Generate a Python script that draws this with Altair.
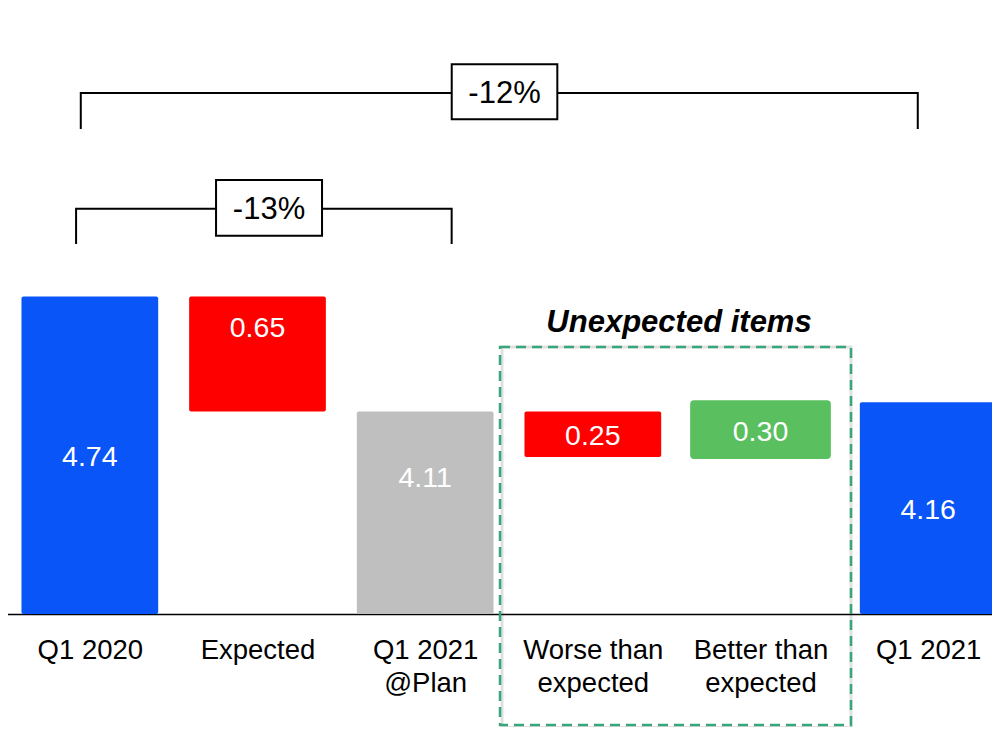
import json
import altair as alt
import pandas as pd

# ---------------- data ----------------
CATEGORIES = ["Q1 2020", "Expected", "Q1 2021\n@Plan", "Worse than\nexpected",
              "Better than\nexpected", "Q1 2021"]
VALUES = [4.74, 0.65, 4.11, 0.25, 0.30, 4.16]
KINDS = ["total", "decrease", "plan", "decrease", "increase", "total"]
GROUP_LABEL = "Unexpected items"
GROUP_MEMBERS = [3, 4]
AXIS_FLOOR = 3.0

# ---------------- layout / style (not data) ----------------
FONT = "Liberation Sans"
KIND_COLORS = {"total": "#0A55F8", "decrease": "#FF0000", "plan": "#BFBFBF", "increase": "#5ABF5F"}
BAR_HALF = 0.4077
LABEL_FRAC = {1: 0.26, 2: 0.32}          # label position from bar top (fraction), default 0.5
Y_TOP = AXIS_FLOOR + 606 / 182.5
X_DOMAIN = [-0.5, 5.5]
X_RANGE = [-2, 1004]
BRACKETS = [
    # from, to, x-left, x-right, y-line, y-tick-end, box (x, x2, y, y2)
    dict(a=0, b=5, xl=-0.054, xr=4.938, yl=5.855, yt=5.6575, box=(2.1584, 2.7882, 5.7107, 6.0121)),
    dict(a=0, b=2, xl=-0.082, xr=2.158, yl=5.221, yt=5.027, box=(0.7527, 1.3849, 5.0729, 5.3781)),
]
GROUP_BOX = (2.4465, 4.5397, 2.3918, 4.463)
GROUP_LABEL_POS = (3.514, 4.547)

# ---------------- waterfall geometry ----------------
rows = []
level = None
for i, (c, v, k) in enumerate(zip(CATEGORIES, VALUES, KINDS)):
    if k in ("total", "plan"):
        lo, hi = AXIS_FLOOR, v
        level = v
    else:
        start = level
        end = start - v if k == "decrease" else start + v
        if i + 1 < len(KINDS) and KINDS[i + 1] in ("total", "plan"):
            end = VALUES[i + 1]
        lo, hi = min(start, end), max(start, end)
        level = end
    frac = LABEL_FRAC.get(i, 0.5)
    rows.append(dict(idx=i, cat=c, kind=k, value=v, txt=f"{v:.2f}",
                     x=i - BAR_HALF, x2=i + BAR_HALF, y=lo, y2=hi,
                     ly=hi - frac * (hi - lo)))
bars = pd.DataFrame(rows)

XS = alt.Scale(domain=X_DOMAIN, range=X_RANGE, nice=False, zero=False)
YS = alt.Scale(domain=[AXIS_FLOOR, Y_TOP], nice=False, zero=False)
label_arr = json.dumps([c.replace("\n", "|") for c in CATEGORIES])
XAXIS = alt.Axis(values=list(range(len(CATEGORIES))),
                 labelExpr=f"split({label_arr}[datum.value], '|')",
                 title=None, grid=False, ticks=False, tickSize=0,
                 domain=True, domainColor="#000000", domainWidth=1.5,
                 labelFont=FONT, labelFontSize=27.5, labelColor="#000000",
                 labelPadding=22, labelLineHeight=33, labelAngle=0,
                 labelAlign="center", labelBaseline="top", labelFlush=False,
                 labelOverlap=False)


def X(f):
    return alt.X(f, type="quantitative", scale=XS, axis=XAXIS)


def Y(f):
    return alt.Y(f, type="quantitative", scale=YS, axis=None)


color_dom = list(KIND_COLORS.keys())
color_rng = list(KIND_COLORS.values())

bar_layer = alt.Chart(bars).mark_rect(strokeJoin="round", cornerRadius=2).encode(
    x=X("x"), x2="x2", y=Y("y"), y2="y2",
    color=alt.Color("kind:N", scale=alt.Scale(domain=color_dom, range=color_rng), legend=None),
    stroke=alt.Stroke("kind:N", scale=alt.Scale(domain=color_dom, range=color_rng), legend=None),
    strokeWidth=alt.condition("datum.kind == 'increase'", alt.value(4), alt.value(0)),
)

value_layer = alt.Chart(bars).mark_text(
    font=FONT, fontSize=28.5, color="#FFFFFF", baseline="middle", align="center", dy=2
).encode(x=X("idx"), y=Y("ly"), text="txt:N")

# group (dashed) box
gdf = pd.DataFrame([dict(x=GROUP_BOX[0], x2=GROUP_BOX[1], y=GROUP_BOX[2], y2=GROUP_BOX[3],
                         lx=GROUP_LABEL_POS[0], ly=GROUP_LABEL_POS[1], label=GROUP_LABEL)])
shadow_layer = alt.Chart(gdf).mark_rect(
    filled=False, stroke="#000000", strokeOpacity=0.12, strokeWidth=3, xOffset=2, yOffset=2.5
).encode(x=X("x"), x2="x2", y=Y("y"), y2="y2")
group_layer = alt.Chart(gdf).mark_rect(
    filled=False, stroke="#38A57A", strokeWidth=2.5, strokeDash=[10, 6]
).encode(x=X("x"), x2="x2", y=Y("y"), y2="y2")
group_text = alt.Chart(gdf).mark_text(
    font=FONT, fontSize=31, fontWeight="bold", fontStyle="italic", color="#000000",
    baseline="alphabetic", align="center"
).encode(x=X("lx"), y=Y("ly"), text="label:N")

# brackets
path_rows, box_rows = [], []
for bi, b in enumerate(BRACKETS):
    pts = [(b["xl"], b["yt"]), (b["xl"], b["yl"]), (b["xr"], b["yl"]), (b["xr"], b["yt"])]
    for o, (px, py) in enumerate(pts):
        path_rows.append(dict(br=bi, o=o, x=px, y=py))
    pct = (VALUES[b["b"]] - VALUES[b["a"]]) / VALUES[b["a"]] * 100
    bx = b["box"]
    box_rows.append(dict(br=bi, x=bx[0], x2=bx[1], y=bx[2], y2=bx[3],
                         cx=(bx[0] + bx[1]) / 2, cy=(bx[2] + bx[3]) / 2, label=f"{pct:.0f}%"))
paths = pd.DataFrame(path_rows)
boxes = pd.DataFrame(box_rows)

bracket_layer = alt.Chart(paths).mark_line(color="#000000", strokeWidth=2, strokeJoin="miter").encode(
    x=X("x"), y=Y("y"), detail="br:N", order="o:Q")
box_layer = alt.Chart(boxes).mark_rect(fill="#FFFFFF", stroke="#000000", strokeWidth=2).encode(
    x=X("x"), x2="x2", y=Y("y"), y2="y2")
box_text = alt.Chart(boxes).mark_text(
    font=FONT, fontSize=31, color="#000000", baseline="middle", align="center", dy=2
).encode(x=X("cx"), y=Y("cy"), text="label:N")

chart = alt.layer(
    shadow_layer, group_layer, bar_layer, value_layer, group_text,
    bracket_layer, box_layer, box_text
).properties(
    width=984, height=606,
    autosize=alt.AutoSizeParams(type="none"),
    padding={"left": 0, "top": 0, "right": 0, "bottom": 113},
    background="#FFFFFF",
).configure_view(stroke=None)

chart.save("out.html", embed_options={"renderer": "svg", "actions": False})
